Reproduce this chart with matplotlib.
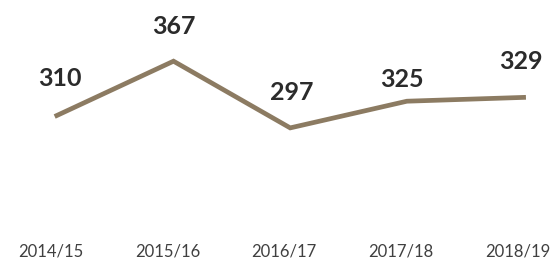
import matplotlib.pyplot as plt
import matplotlib.transforms as mtransforms

years = ['2014/15', '2015/16', '2016/17', '2017/18', '2018/19']
values = [310, 367, 297, 325, 329]

# label nudges in pixels (dx, dy) to sit like the original
label_dx = [3.5, 0.5, 2, -5, -2.5]
label_dy = [37, 35, 35.5, 22, 36]

line_color = '#8c7b62'

fig = plt.figure(figsize=(5.58, 2.62), dpi=100)
ax = fig.add_axes([0, 0.103, 1, 0.897])

x = list(range(len(years)))
ax.plot(x, values, color=line_color, linewidth=3.4, solid_joinstyle='miter')

# value labels above each point
for xi, v, dx, dy in zip(x, values, label_dx, label_dy):
    ax.annotate(str(v), (xi, v), xytext=(dx * 0.72, dy * 0.72), textcoords='offset points',
                ha='center', va='center', fontsize=18, fontweight='bold',
                family='Lato', color='#2b2b2b')

ax.set_xlim(-0.487, 4.295)
ax.set_ylim(184.6, 431.2)
ax.set_xticks(x)
ax.set_xticklabels(years, fontsize=12, family='Lato', color='#404040')
ax.tick_params(axis='x', length=0, pad=6)
shift = mtransforms.ScaledTranslation(-6 / 100, 0, fig.dpi_scale_trans)
for lab in ax.get_xticklabels():
    lab.set_transform(lab.get_transform() + shift)
ax.set_yticks([])
for s in ax.spines.values():
    s.set_visible(False)

fig.savefig('out.png', dpi=100)
